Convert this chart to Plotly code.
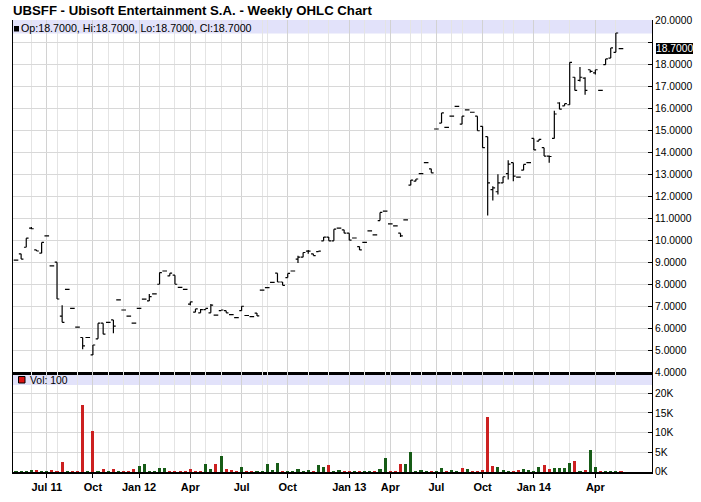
import plotly.graph_objects as go

# ---- data (weekly bars, oldest first; weeks without trades are omitted) ----
opens = [9.09, 9.38, 9.68, 10.55, 9.56, 9.41, 10.2, 8.83, 9.0, 6.55,
         7.77, 6.9, 6.05, 5.58, 5.58, 4.79, 5.52, 6.23, 6.27, 6.38,
         7.29, 6.83, 6.55, 6.23, 6.9, 7.32, 7.24, 7.56, 8.0, 8.6,
         8.38, 8.41, 7.86, 7.77, 7.1, 6.73, 6.7, 6.85, 6.7, 6.6,
         6.8, 6.8, 6.62, 6.48, 6.8, 6.58, 6.53, 6.69, 7.73, 7.85,
         8.08, 8.5, 8.1, 8.3, 8.6, 9.14, 9.23, 9.5, 9.38, 9.48,
         9.97, 10.14, 9.97, 10.55, 10.47, 10.32, 10.1, 9.71, 9.9, 10.42,
         10.24, 10.89, 11.32, 10.74, 10.65, 10.32, 10.92, 12.5, 12.68, 13.02,
         13.52, 13.24, 15.05, 15.32, 15.12, 15.63, 16.08, 15.27, 15.92, 15.81,
         15.63, 15.17, 14.7, 12.3, 12.2, 12.6, 13.02, 13.52, 12.86, 13.18,
         13.52, 14.62, 14.5, 14.2, 13.82, 14.62, 16.23, 16.1, 16.15, 17.4,
         17.26, 17.36, 17.74, 17.6, 16.8, 17.97, 18.27, 18.53, 18.7]
highs = [9.09, 9.38, 10.09, 10.6, 9.56, 9.9, 10.2, 8.83, 9.0, 7.05,
         7.77, 6.9, 6.05, 5.58, 5.58, 5.24, 6.23, 6.23, 6.27, 6.38,
         7.29, 6.83, 6.55, 6.23, 6.9, 7.32, 7.56, 7.56, 8.53, 8.6,
         8.5, 8.41, 7.86, 7.77, 7.2, 6.88, 6.88, 6.9, 7.1, 6.6,
         6.83, 6.8, 6.62, 6.48, 7.0, 6.58, 6.53, 6.69, 7.73, 7.85,
         8.08, 8.5, 8.1, 8.49, 8.6, 9.29, 9.44, 9.56, 9.38, 9.5,
         10.14, 10.14, 10.5, 10.55, 10.47, 10.32, 10.1, 9.71, 9.9, 10.42,
         10.24, 11.26, 11.32, 10.74, 10.65, 10.32, 10.92, 12.73, 12.78, 13.02,
         13.52, 13.24, 15.05, 15.78, 15.12, 15.63, 16.08, 15.63, 15.92, 15.81,
         15.63, 15.17, 14.7, 12.45, 13.0, 12.88, 13.63, 13.52, 12.86, 13.44,
         13.52, 14.62, 14.58, 14.2, 13.85, 15.88, 16.27, 16.2, 18.08, 17.4,
         17.86, 17.4, 17.74, 17.74, 16.8, 18.23, 18.73, 19.41, 18.7]
lows = [9.09, 9.14, 9.68, 10.5, 9.51, 9.41, 10.2, 8.83, 7.33, 6.27,
        7.77, 6.9, 6.05, 5.05, 5.58, 4.79, 5.52, 5.73, 6.27, 5.77,
        7.29, 6.83, 6.55, 6.23, 6.9, 7.32, 7.24, 7.56, 8.0, 8.6,
        8.38, 8.0, 7.86, 7.77, 7.05, 6.73, 6.7, 6.85, 6.7, 6.6,
        6.8, 6.7, 6.62, 6.48, 6.8, 6.58, 6.53, 6.56, 7.73, 7.85,
        8.08, 8.1, 7.95, 8.3, 8.6, 8.96, 9.23, 9.38, 9.3, 9.48,
        9.97, 9.97, 9.97, 10.55, 10.32, 10.0, 10.1, 9.56, 9.9, 10.42,
        10.24, 10.89, 11.32, 10.74, 10.65, 10.14, 10.92, 12.5, 12.68, 13.02,
        13.52, 13.06, 15.05, 15.32, 15.12, 15.63, 16.08, 15.27, 15.92, 15.81,
        14.97, 14.2, 11.12, 11.8, 12.07, 12.6, 12.76, 12.68, 12.86, 13.18,
        13.52, 14.1, 14.5, 13.82, 13.52, 14.62, 15.95, 16.1, 16.15, 16.8,
        17.21, 16.6, 17.6, 17.52, 16.8, 17.97, 18.27, 18.53, 18.7]
closes = [9.09, 9.14, 10.09, 10.52, 9.51, 9.9, 10.2, 8.83, 7.33, 6.27,
          7.77, 6.9, 6.05, 5.2, 5.58, 5.24, 6.23, 5.73, 6.27, 6.1,
          7.29, 6.83, 6.55, 6.23, 6.9, 7.32, 7.44, 7.56, 8.53, 8.6,
          8.5, 8.0, 7.86, 7.77, 7.2, 6.88, 6.85, 6.9, 7.05, 6.6,
          6.83, 6.7, 6.62, 6.48, 7.0, 6.58, 6.53, 6.56, 7.73, 7.85,
          8.08, 8.1, 7.95, 8.49, 8.6, 9.23, 9.44, 9.5, 9.3, 9.5,
          10.14, 9.97, 10.5, 10.55, 10.32, 10.0, 10.1, 9.56, 9.9, 10.42,
          10.24, 11.26, 11.32, 10.74, 10.65, 10.2, 10.92, 12.73, 12.78, 13.02,
          13.52, 13.06, 15.05, 15.78, 15.12, 15.63, 16.08, 15.63, 15.92, 15.81,
          14.97, 14.2, 12.6, 12.38, 12.6, 12.88, 13.45, 12.91, 12.86, 13.44,
          13.52, 14.1, 14.58, 13.82, 13.8, 15.73, 15.95, 16.2, 18.08, 16.8,
          17.4, 16.8, 17.67, 17.74, 16.8, 18.23, 18.73, 19.41, 18.7]
volumes = [100, 250, 250, 500, 500, 100, 100, 500, 250, 2600,
           100, 100, 100, 17100, 250, 10500, 250, 700, 100, 700,
           100, 100, 250, 700, 1400, 2000, 250, 250, 900, 900,
           250, 250, 100, 250, 700, 100, 250, 2000, 700, 2000,
           4000, 700, 500, 100, 1200, 100, 100, 250, 100, 2000,
           500, 2200, 250, 250, 250, 700, 250, 500, 250, 1800,
           1300, 1800, 100, 500, 250, 250, 100, 200, 100, 250,
           200, 700, 3500, 100, 250, 2000, 2000, 5100, 250, 500,
           250, 250, 100, 900, 100, 500, 100, 900, 700, 250,
           250, 500, 13900, 1450, 1200, 500, 250, 250, 500, 750,
           500, 250, 1200, 1800, 700, 900, 900, 900, 2300, 2800,
           250, 500, 5500, 1200, 100, 250, 250, 250, 100]

# axis labelling (bar index of the first bar of each month)
quarter_pos = [6, 15, 24, 34, 44, 53, 65, 73, 82, 91, 101, 113]
quarter_labels = ["Jul 11", "Oct", "Jan 12", "Apr", "Jul", "Oct",
                  "Jan 13", "Apr", "Jul", "Oct", "Jan 14", "Apr"]
month_pos = [3, 8, 12, 18, 21, 28, 31, 37, 40, 48, 49, 57, 61, 68,
             72, 77, 79, 85, 87, 95, 97, 104, 108, 117]
price_ticks = list(range(4, 21))
vol_ticks = [0, 5000, 10000, 15000, 20000]
vol_tick_labels = ["0K", "5K", "10K", "15K", "20K"]

title_text = "UBSFF - Ubisoft Entertainment S.A. - Weekly OHLC Chart"

# ---- derived ----
idx = list(range(len(closes)))
RED, GREEN = "#cc2020", "#175c17"
vol_colors = [GREEN if (i == 0 or closes[i] >= closes[i - 1]) else RED for i in idx]
last_price = closes[-1]

FONT = "Liberation Sans, Arial, sans-serif"
W, H = 701, 502
ML, MR, MT, MB = 13, 49, 20, 30
plot_h = H - MT - MB
sep_px = 372.3
split = (H - MB - sep_px) / plot_h


def py(px):  # pixel row -> paper y
    return (H - MB - px) / plot_h


def pxx(px):  # pixel col -> paper x
    return (px - ML) / (W - ML - MR)


fig = go.Figure()
fig.add_trace(go.Ohlc(
    x=idx, open=opens, high=highs, low=lows, close=closes,
    increasing=dict(line=dict(color="black", width=1.2)),
    decreasing=dict(line=dict(color="black", width=1.2)),
    tickwidth=0.45, xaxis="x", yaxis="y", showlegend=False, hoverinfo="skip"))
fig.add_trace(go.Bar(
    x=idx, y=volumes, marker=dict(color=vol_colors, line=dict(width=0)),
    width=0.6, xaxis="x2", yaxis="y2", showlegend=False, hoverinfo="skip"))

xr = [-0.585, 124.05]
grid_major = "#d2d2d2"
grid_minor = "#e4e4e4"
common_x = dict(range=xr, tickvals=quarter_pos, showgrid=True, gridcolor=grid_major,
                gridwidth=1, zeroline=False, automargin=False,
                minor=dict(tickvals=month_pos, showgrid=True, gridcolor=grid_minor,
                           gridwidth=1, ticks=""))

fig.update_layout(
    width=W, height=H, margin=dict(l=ML, r=MR, t=MT, b=MB, pad=0, autoexpand=False),
    paper_bgcolor="white", plot_bgcolor="rgba(0,0,0,0)",
    bargap=0, showlegend=False,
    xaxis=dict(domain=[0, 1], anchor="y", showticklabels=False, ticks="",
               showline=True, linecolor="black", linewidth=2.5,
               rangeslider=dict(visible=False), **common_x),
    xaxis2=dict(domain=[0, 1], anchor="y2", matches="x", ticktext=quarter_labels,
                ticks="outside", ticklen=4, tickcolor="black", tickwidth=1,
                tickfont=dict(family=FONT, size=11, color="black", weight="bold"),
                showline=True, linecolor="black", linewidth=1.5,
                rangeslider=dict(visible=False), **common_x),
    yaxis=dict(domain=[split, 1], anchor="x", side="right", range=[4, 20],
               tickvals=price_ticks,
               ticktext=["" if v == 19 else f"{v:.4f}" for v in price_ticks],
               ticks="inside", ticklen=4, tickcolor="black", automargin=False,
               tickfont=dict(family=FONT, size=10.3, color="black"),
               showline=True, mirror=True, linecolor="black", linewidth=1,
               showgrid=True, gridcolor="#d8d8d8", zeroline=False),
    yaxis2=dict(domain=[0, split], anchor="x2", side="right",
                range=[-77, 25360], tickvals=vol_ticks, ticktext=vol_tick_labels,
                ticks="inside", ticklen=4, tickcolor="black", automargin=False,
                tickfont=dict(family=FONT, size=10.3, color="black"),
                showline=True, mirror=True, linecolor="black", linewidth=1,
                showgrid=True, gridcolor="#d8d8d8", zeroline=False),
)

BAND = "#e2e2fa"
shapes = [
    dict(type="rect", xref="paper", yref="paper", x0=0, x1=1, y0=py(33.5), y1=1,
         fillcolor=BAND, line=dict(width=0), layer="below"),
    dict(type="rect", xref="paper", yref="paper", x0=0, x1=1, y0=py(385), y1=split,
         fillcolor=BAND, line=dict(width=0), layer="below"),
    # legend swatches
    dict(type="rect", xref="paper", yref="paper", x0=pxx(14), x1=pxx(19),
         y0=py(31.5), y1=py(26), fillcolor="black", line=dict(width=0)),
    dict(type="rect", xref="paper", yref="paper", x0=pxx(18.5), x1=pxx(25),
         y0=py(383), y1=py(376.5), fillcolor="#dd1111", line=dict(color="black", width=1)),
]
fig.update_layout(shapes=shapes)

ann = [
    dict(text=title_text, xref="paper", yref="paper", x=pxx(11), y=py(10),
         xanchor="left", yanchor="middle", showarrow=False,
         font=dict(family=FONT, size=13.2, color="black", weight="bold")),
    dict(text=f"Op:{opens[-1]:.4f}, Hi:{highs[-1]:.4f}, Lo:{lows[-1]:.4f}, Cl:{closes[-1]:.4f}",
         xref="paper", yref="paper", x=pxx(19), y=py(28), xanchor="left", yanchor="middle",
         showarrow=False, font=dict(family=FONT, size=10.7, color="black")),
    dict(text=f"Vol: {volumes[-1]}", xref="paper", yref="paper", x=pxx(28), y=py(380),
         xanchor="left", yanchor="middle", showarrow=False,
         font=dict(family=FONT, size=10.4, color="black")),
    dict(text=f"{last_price:.4f}", xref="paper", yref="y", x=pxx(655.5), y=last_price,
         xanchor="left", yanchor="middle", showarrow=False, bgcolor="black",
         borderpad=0, borderwidth=0,
         font=dict(family=FONT, size=10.3, color="white")),
]
fig.update_layout(annotations=ann)

fig.write_html("out.html", config={"displayModeBar": False, "staticPlot": True},
               post_script="document.body.style.margin='0';document.body.style.overflow='hidden';")
